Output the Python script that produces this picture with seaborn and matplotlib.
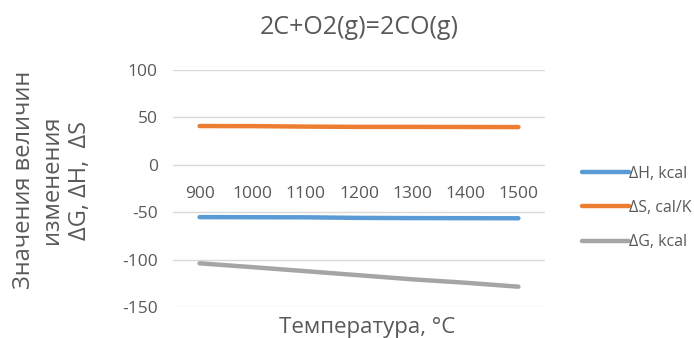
import matplotlib
matplotlib.use("Agg")
import matplotlib.pyplot as plt
import seaborn as sns
import pandas as pd

temps = ["900", "1000", "1100", "1200", "1300", "1400", "1500"]
dH = [-55.2, -55.3, -55.4, -56.0, -56.2, -56.3, -56.4]
dS = [40.9, 40.8, 40.3, 40.0, 40.0, 39.9, 39.8]
dG = [-103.9, -108.0, -112.2, -116.5, -120.8, -124.4, -128.6]
series_names = ["ΔH, kcal", "ΔS, cal/K", "ΔG, kcal"]
colors = ["#5B9BD5", "#ED7D31", "#A5A5A5"]

df = pd.DataFrame({"T": temps * 3,
                   "val": dH + dS + dG,
                   "series": [series_names[0]] * 7 + [series_names[1]] * 7 + [series_names[2]] * 7})

sns.set_style("white")
plt.rcParams['font.family'] = ['Open Sans', 'DejaVu Sans']
plt.rcParams['axes.unicode_minus'] = False
txt = "#595959"

fig = plt.figure(figsize=(6.94, 3.38), dpi=100)
ax = fig.add_axes([173 / 694, 1 - 307 / 338, 372 / 694, 237 / 338])
sns.lineplot(data=df, x="T", y="val", hue="series", palette=colors, linewidth=3.2,
             solid_capstyle="round", ax=ax, legend=False)

ax.set_ylim(-150, 100)
ax.set_xlim(-0.5, 6.5)
ax.set_yticks([-150, -100, -50, 0, 50, 100])
ax.yaxis.grid(True, color="#D9D9D9", linewidth=1)
ax.set_axisbelow(True)
for s in ax.spines.values():
    s.set_visible(False)
ax.spines['bottom'].set_position(('data', 0))
ax.tick_params(axis='both', length=0, labelsize=12.5, labelcolor=txt)
ax.tick_params(axis='x', pad=15)
ax.tick_params(axis='y', pad=11)
ax.set_xlabel("")
ax.set_ylabel("")

fig.text(359 / 694, 1 - 28 / 338, "2C+O2(g)=2CO(g)", ha="center", va="center", fontsize=18, color=txt)
fig.text(367 / 694, 1 - 327 / 338, "Температура, °C", ha="center", va="center", fontsize=16, color=txt)
fig.text(52 / 694, 1 - 180 / 338, "Значения величин\nизменения\nΔG, ΔH,  ΔS", ha="center", va="center",
         rotation=90, multialignment="center", fontsize=17, color=txt, linespacing=1.2)

handles = [plt.Line2D([], [], color=c, linewidth=3.2) for c in colors]
leg = fig.legend(handles, series_names, loc="center left", bbox_to_anchor=(576 / 694, 1 - 208 / 338),
                 frameon=False, fontsize=11.5, handlelength=2.9, handletextpad=0.0, labelspacing=1.15,
                 borderaxespad=0)
for t in leg.get_texts():
    t.set_color(txt)

fig.savefig("out.png", dpi=100)
